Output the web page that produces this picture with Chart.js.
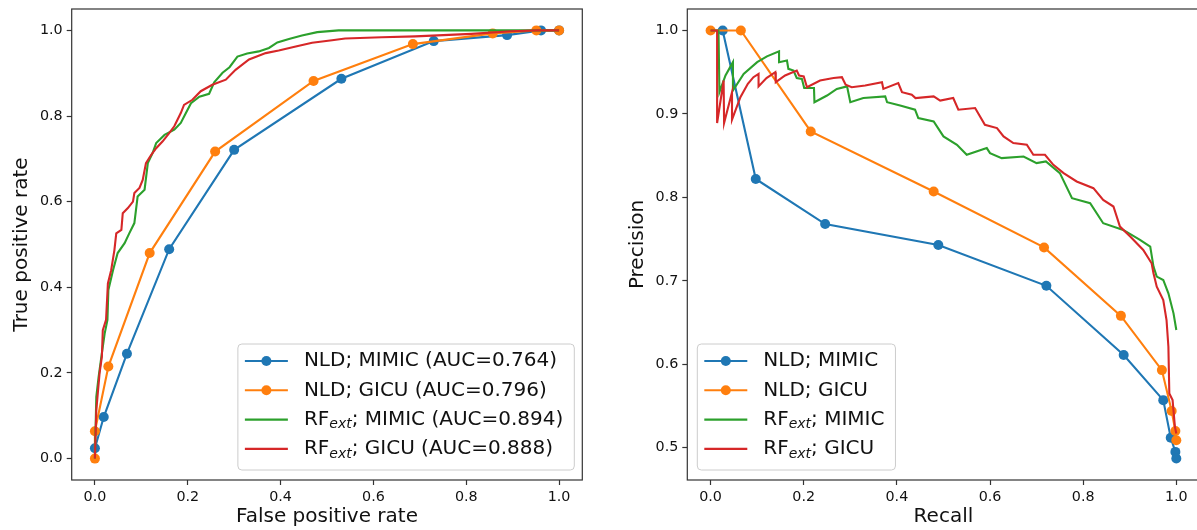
<!DOCTYPE html>
<html>
<head>
<meta charset="utf-8">
<script src="https://cdn.jsdelivr.net/npm/chart.js@4.4.1/dist/chart.umd.min.js"></script>
<style>
  html, body { margin: 0; padding: 0; background: #fff; overflow: hidden; width: 1197px; height: 530px; }
  canvas { position: absolute; top: 0; }
  #roc { left: 0; width: 590px; height: 530px; }
  #pr { left: 600px; width: 610px; height: 530px; }
</style>
</head>
<body>
<canvas id="roc" width="590" height="530"></canvas>
<canvas id="pr" width="610" height="530"></canvas>
<script>
// ROC curves
const nldMimicFpr = [0, 0.019, 0.069, 0.160, 0.300, 0.531, 0.730, 0.888, 0.961, 1.0];
const nldMimicTpr = [0.024, 0.097, 0.245, 0.489, 0.721, 0.887, 0.975, 0.989, 1.0, 1.0];
const nldGicuFpr = [0, 0, 0.029, 0.118, 0.259, 0.471, 0.685, 0.857, 0.951, 1.0];
const nldGicuTpr = [0, 0.064, 0.215, 0.480, 0.717, 0.882, 0.968, 0.993, 1.0, 1.0];
const rfMimicFpr = [0, 0.003, 0.008, 0.015, 0.021, 0.027, 0.029, 0.039, 0.049, 0.064, 0.074, 0.085, 0.092, 0.107, 0.114, 0.124, 0.132, 0.150, 0.171, 0.185, 0.196, 0.207, 0.225, 0.246, 0.257, 0.275, 0.290, 0.307, 0.328, 0.353, 0.375, 0.393, 0.418, 0.446, 0.479, 0.525, 1.0];
const rfMimicTpr = [0, 0.144, 0.191, 0.246, 0.292, 0.324, 0.394, 0.440, 0.480, 0.503, 0.526, 0.550, 0.612, 0.628, 0.690, 0.713, 0.737, 0.756, 0.768, 0.784, 0.807, 0.830, 0.845, 0.852, 0.879, 0.901, 0.914, 0.939, 0.946, 0.951, 0.959, 0.972, 0.980, 0.988, 0.996, 1.0, 1.0];
const rfGicuFpr = [0, 0.003, 0.010, 0.015, 0.017, 0.024, 0.028, 0.035, 0.042, 0.046, 0.057, 0.060, 0.071, 0.082, 0.085, 0.096, 0.103, 0.110, 0.121, 0.132, 0.146, 0.160, 0.171, 0.185, 0.192, 0.210, 0.228, 0.253, 0.282, 0.303, 0.332, 0.368, 0.396, 0.435, 0.468, 0.511, 0.539, 0.618, 0.690, 0.811, 0.897, 0.954, 1.0];
const rfGicuTpr = [0, 0.113, 0.199, 0.238, 0.300, 0.324, 0.409, 0.440, 0.487, 0.526, 0.534, 0.573, 0.585, 0.600, 0.620, 0.632, 0.651, 0.690, 0.709, 0.725, 0.741, 0.760, 0.776, 0.807, 0.826, 0.838, 0.858, 0.873, 0.885, 0.908, 0.932, 0.947, 0.953, 0.963, 0.971, 0.977, 0.981, 0.984, 0.986, 0.992, 0.998, 1.0, 1.0];

// precision-recall curves
const nldMimicRecall = [0.026, 0.097, 0.246, 0.489, 0.721, 0.887, 0.972, 0.988, 0.998, 1.0];
const nldMimicPrecision = [1.0, 0.822, 0.768, 0.743, 0.694, 0.611, 0.557, 0.512, 0.495, 0.487];
const nldGicuRecall = [0, 0.065, 0.215, 0.479, 0.716, 0.881, 0.969, 0.990, 0.998, 1.0];
const nldGicuPrecision = [1.0, 1.0, 0.879, 0.807, 0.740, 0.658, 0.593, 0.544, 0.520, 0.509];
const rfMimicRecall = [0, 0.017, 0.019, 0.032, 0.048, 0.048, 0.071, 0.100, 0.121, 0.147, 0.147, 0.164, 0.167, 0.178, 0.185, 0.196, 0.201, 0.222, 0.223, 0.250, 0.271, 0.293, 0.300, 0.328, 0.375, 0.379, 0.407, 0.439, 0.446, 0.479, 0.500, 0.529, 0.550, 0.593, 0.600, 0.625, 0.672, 0.700, 0.720, 0.750, 0.776, 0.815, 0.843, 0.886, 0.922, 0.944, 0.951, 0.958, 0.972, 0.983, 0.994, 1.0];
const rfMimicPrecision = [1.0, 1.0, 0.926, 0.946, 0.962, 0.928, 0.948, 0.962, 0.969, 0.975, 0.962, 0.964, 0.954, 0.952, 0.943, 0.942, 0.931, 0.931, 0.914, 0.922, 0.930, 0.933, 0.914, 0.919, 0.921, 0.914, 0.910, 0.905, 0.895, 0.891, 0.873, 0.863, 0.851, 0.859, 0.853, 0.847, 0.849, 0.841, 0.843, 0.829, 0.799, 0.793, 0.769, 0.761, 0.749, 0.741, 0.717, 0.705, 0.701, 0.685, 0.661, 0.641];
const rfGicuRecall = [0, 0.014, 0.014, 0.028, 0.029, 0.046, 0.046, 0.064, 0.080, 0.092, 0.103, 0.103, 0.120, 0.139, 0.140, 0.160, 0.185, 0.190, 0.200, 0.207, 0.235, 0.264, 0.282, 0.290, 0.303, 0.332, 0.368, 0.371, 0.403, 0.411, 0.432, 0.440, 0.479, 0.493, 0.521, 0.532, 0.568, 0.589, 0.615, 0.629, 0.650, 0.679, 0.693, 0.718, 0.736, 0.758, 0.786, 0.822, 0.843, 0.865, 0.879, 0.901, 0.929, 0.947, 0.951, 0.958, 0.972, 0.979, 0.983, 0.985, 0.992, 0.997, 1.0];
const rfGicuPrecision = [1.0, 1.0, 0.889, 0.940, 0.889, 0.926, 0.893, 0.920, 0.936, 0.944, 0.948, 0.933, 0.943, 0.950, 0.938, 0.946, 0.952, 0.946, 0.945, 0.932, 0.940, 0.943, 0.944, 0.935, 0.932, 0.934, 0.938, 0.930, 0.937, 0.926, 0.923, 0.919, 0.921, 0.916, 0.919, 0.905, 0.907, 0.887, 0.883, 0.873, 0.865, 0.863, 0.851, 0.851, 0.839, 0.829, 0.819, 0.811, 0.797, 0.789, 0.765, 0.753, 0.737, 0.721, 0.709, 0.693, 0.677, 0.653, 0.621, 0.565, 0.557, 0.525, 0.517];

// tick labels
const unitTicks = [0, 0.2, 0.4, 0.6, 0.8, 1.0];
const precisionTicks = [0.5, 0.6, 0.7, 0.8, 0.9, 1.0];

const BLUE = '#1f77b4', ORANGE = '#ff7f0e', GREEN = '#2ca02c', RED = '#d62728';
const FONT = '"DejaVu Sans", sans-serif';

function series(label, xs, ys, color, marker, order) {
    return {
        label: label,
        data: xs.map((x, i) => ({ x: x, y: ys[i] })),
        borderColor: color,
        backgroundColor: color,
        borderWidth: 2.1,
        showLine: true,
        tension: 0,
        pointRadius: marker ? 5 : 0,
        pointBorderWidth: 0,
        pointHoverRadius: 0,
        order: order
    };
}

function makeScale(tickValues, min, max, title, titlePad, boxSize, isX) {
    return {
        type: 'linear',
        min: min,
        max: max,
        afterBuildTicks: s => { s.ticks = tickValues.map(v => ({ value: v })); },
        afterFit: s => {
            if (isX) s.height = boxSize; else s.width = boxSize;
            // keep the plot area where the layout padding puts it
            s.paddingTop = 0; s.paddingBottom = 0; s.paddingLeft = 0; s.paddingRight = 0;
        },
        ticks: {
            callback: v => Number(v).toFixed(1),
            color: '#111',
            font: { family: FONT, size: 14.3 },
            padding: 4,
            autoSkip: false,
            maxRotation: 0
        },
        grid: { display: true, drawOnChartArea: false, drawTicks: true, tickLength: 5, tickWidth: 1.2, tickColor: '#333' },
        border: { display: false },
        title: { display: true, text: title, color: '#111', font: { family: FONT, size: 20 }, padding: titlePad }
    };
}

// full box round the axes, like matplotlib spines
const framePlugin = {
    id: 'frame',
    afterDatasetsDraw(chart) {
        const a = chart.chartArea, ctx = chart.ctx;
        ctx.save();
        ctx.strokeStyle = '#333';
        ctx.lineWidth = 1.2;
        ctx.strokeRect(a.left, a.top, a.right - a.left, a.bottom - a.top);
        ctx.restore();
    }
};

// legend with subscripts written as RF_{ext}
const legendPlugin = {
    id: 'mplLegend',
    afterDatasetsDraw(chart, args, opts) {
        const ctx = chart.ctx, a = chart.chartArea;
        const mainFont = '20px ' + FONT;
        const subFont = 'italic 14px ' + FONT;
        ctx.save();
        const items = chart.data.datasets.map(ds => {
            const parts = ds.label.split(/_\{(.*?)\}/);
            let w = 0;
            parts.forEach((p, i) => {
                ctx.font = i % 2 ? subFont : mainFont;
                w += ctx.measureText(p).width;
            });
            return { ds: ds, parts: parts, w: w };
        });
        const textW = Math.max(...items.map(it => it.w));
        const boxW = 7 + 43 + 16 + textW + 11;
        const boxH = 126;
        const x = opts.corner === 'right' ? a.right - 8 - boxW : a.left + 10;
        const y = a.bottom - 10 - boxH;

        ctx.beginPath();
        ctx.roundRect(x, y, boxW, boxH, 4);
        ctx.fillStyle = 'rgba(255,255,255,0.8)';
        ctx.fill();
        ctx.strokeStyle = '#cccccc';
        ctx.lineWidth = 1;
        ctx.stroke();

        items.forEach((it, i) => {
            const cy = y + 17 + i * 29.3;
            ctx.strokeStyle = it.ds.borderColor;
            ctx.lineWidth = 2.1;
            ctx.beginPath();
            ctx.moveTo(x + 7, cy);
            ctx.lineTo(x + 50, cy);
            ctx.stroke();
            if (it.ds.pointRadius > 0) {
                ctx.fillStyle = it.ds.borderColor;
                ctx.beginPath();
                ctx.arc(x + 28.5, cy, 5, 0, Math.PI * 2);
                ctx.fill();
            }
            let tx = x + 66;
            ctx.fillStyle = '#111';
            ctx.textBaseline = 'middle';
            ctx.textAlign = 'left';
            it.parts.forEach((p, j) => {
                ctx.font = j % 2 ? subFont : mainFont;
                ctx.fillText(p, tx, j % 2 ? cy + 5 : cy);
                tx += ctx.measureText(p).width;
            });
        });
        ctx.restore();
    }
};

new Chart(document.getElementById('roc'), {
    type: 'scatter',
    data: {
        datasets: [
            series('NLD; MIMIC (AUC=0.764)', nldMimicFpr, nldMimicTpr, BLUE, true, 4),
            series('NLD; GICU (AUC=0.796)', nldGicuFpr, nldGicuTpr, ORANGE, true, 3),
            series('RF_{ext}; MIMIC (AUC=0.894)', rfMimicFpr, rfMimicTpr, GREEN, false, 2),
            series('RF_{ext}; GICU (AUC=0.888)', rfGicuFpr, rfGicuTpr, RED, false, 1)
        ]
    },
    options: {
        responsive: false,
        animation: false,
        events: [],
        layout: { padding: { top: 9, right: 7.7, left: 0, bottom: 0 } },
        scales: {
            x: makeScale(unitTicks, -0.05, 1.05, 'False positive rate', { top: 0, bottom: 1 }, 50, true),
            y: makeScale(unitTicks, -0.05, 1.05, 'True positive rate', { top: 10, bottom: 0 }, 71.7, false)
        },
        plugins: { legend: { display: false }, tooltip: { enabled: false }, mplLegend: { corner: 'right' } }
    },
    plugins: [framePlugin, legendPlugin]
});

new Chart(document.getElementById('pr'), {
    type: 'scatter',
    data: {
        datasets: [
            series('NLD; MIMIC', nldMimicRecall, nldMimicPrecision, BLUE, true, 4),
            series('NLD; GICU', nldGicuRecall, nldGicuPrecision, ORANGE, true, 3),
            series('RF_{ext}; MIMIC', rfMimicRecall, rfMimicPrecision, GREEN, false, 2),
            series('RF_{ext}; GICU', rfGicuRecall, rfGicuPrecision, RED, false, 1)
        ]
    },
    options: {
        responsive: false,
        animation: false,
        events: [],
        layout: { padding: { top: 9, right: 10.4, left: 0, bottom: 0 } },
        scales: {
            x: makeScale(unitTicks, -0.05, 1.05, 'Recall', { top: 0, bottom: 1 }, 50, true),
            y: makeScale(precisionTicks, 0.4613, 1.0257, 'Precision', { top: 26, bottom: 0 }, 87.3, false)
        },
        plugins: { legend: { display: false }, tooltip: { enabled: false }, mplLegend: { corner: 'left' } }
    },
    plugins: [framePlugin, legendPlugin]
});
</script>
</body>
</html>
